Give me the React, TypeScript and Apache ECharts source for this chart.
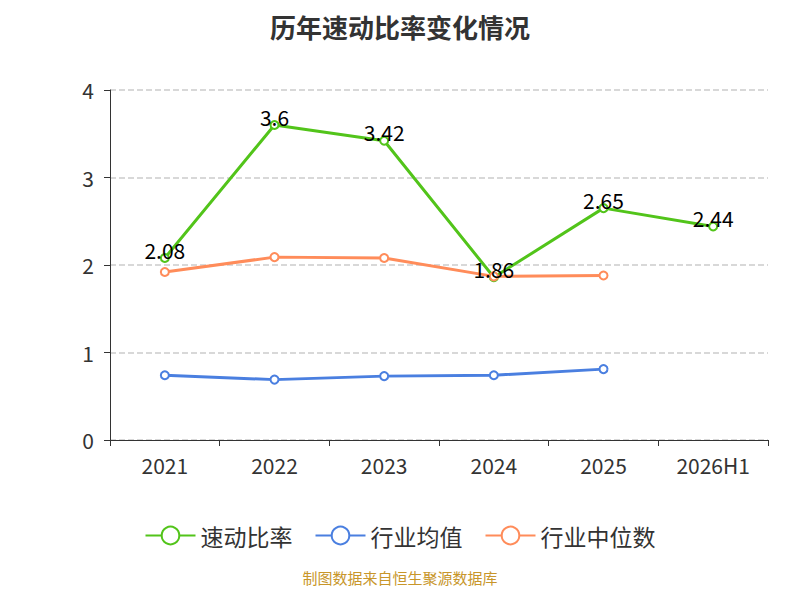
import { useEffect, useRef } from 'react';
import * as echarts from 'echarts';

const years = ['2021', '2022', '2023', '2024', '2025', '2026H1'];
const quickRatio = [2.08, 3.6, 3.42, 1.86, 2.65, 2.44];
const industryAvg = [0.74, 0.69, 0.73, 0.74, 0.81, null];
const industryMedian = [1.92, 2.09, 2.08, 1.87, 1.88, null];

export default function App() {
  const ref = useRef<HTMLDivElement>(null);

  useEffect(() => {
    if (!ref.current) return;
    const chart = echarts.init(ref.current, null, { renderer: 'svg' });
    const font = '"Noto Sans CJK SC", "Noto Sans", sans-serif';
    chart.setOption({
      animation: false,
      textStyle: { fontFamily: font },
      title: {
        text: '历年速动比率变化情况',
        left: 'center',
        top: 0,
        textStyle: { fontSize: 26, fontWeight: 'bold', color: '#333' },
      },
      grid: { left: 102, right: 24, top: 82, bottom: 152 },
      legend: {
        bottom: 40,
        itemWidth: 50,
        itemHeight: 22,
        itemGap: 22,
        textStyle: { fontSize: 23, color: '#333' },
        data: ['速动比率', '行业均值', '行业中位数'],
      },
      graphic: [
        {
          type: 'text',
          left: 'center',
          top: 562,
          style: { text: '制图数据来自恒生聚源数据库', fontSize: 15, fill: '#c8962a', fontFamily: font },
        },
      ],
      xAxis: {
        type: 'category',
        data: years,
        axisLine: { lineStyle: { color: '#333' } },
        axisTick: { show: true, alignWithLabel: false, length: 6 },
        axisLabel: { fontSize: 21, color: '#333', margin: 14 },
      },
      yAxis: {
        type: 'value',
        min: 0,
        max: 4,
        interval: 1,
        axisLine: { show: true, lineStyle: { color: '#333' } },
        axisTick: { show: true, length: 6 },
        axisLabel: { fontSize: 21, color: '#333', margin: 16 },
        splitLine: { lineStyle: { type: 'dashed', color: '#ccc', width: 1.5 } },
      },
      series: [
        {
          name: '速动比率',
          type: 'line',
          data: quickRatio,
          color: '#52c41a',
          symbol: 'emptyCircle',
          symbolSize: 8,
          lineStyle: { width: 3 },
          label: {
            show: true,
            position: 'top',
            offset: [0, 12],
            fontSize: 21,
            color: '#000',
          },
          z: 3,
        },
        {
          name: '行业均值',
          type: 'line',
          data: industryAvg,
          color: '#4a7fe0',
          symbol: 'emptyCircle',
          symbolSize: 8,
          lineStyle: { width: 3 },
        },
        {
          name: '行业中位数',
          type: 'line',
          data: industryMedian,
          color: '#ff8c5a',
          symbol: 'emptyCircle',
          symbolSize: 8,
          lineStyle: { width: 3 },
        },
      ],
    });
    return () => chart.dispose();
  }, []);

  return <div ref={ref} style={{ width: 784, height: 584 }} />;
}
